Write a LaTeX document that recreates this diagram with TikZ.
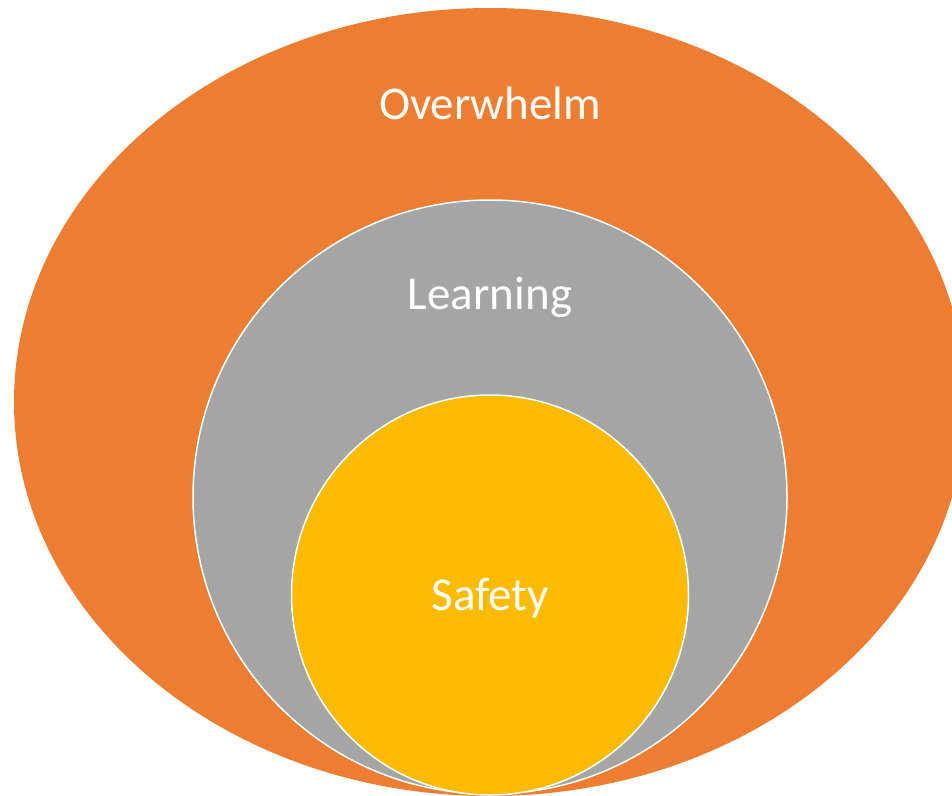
\documentclass[tikz,border=0pt]{standalone}
\usepackage{fontspec}
\setmainfont{Carlito}
\usetikzlibrary{shapes.geometric}
\definecolor{cOrange}{HTML}{ED7D31}
\definecolor{cGrey}{HTML}{A5A5A5}
\definecolor{cYellow}{HTML}{FCBB00}
\begin{document}
\begin{tikzpicture}[x=1pt,y=-1pt,
  ring/.style={ellipse,inner sep=0pt,outer sep=0pt,draw=white,line width=1.5pt},
  lbl/.style={text=white,font=\fontsize{47}{56}\selectfont,inner sep=0pt}]
\useasboundingbox (0,0) rectangle (952,795);
\clip (0,0) rectangle (952,795);
\node[ring,fill=cOrange,draw=none,minimum width=952pt,minimum height=788pt] (over) at (490,402) {};
\node[ring,fill=cGrey,minimum width=594pt,minimum height=594pt] (learn) at (490,497) {};
\node[ring,fill=cYellow,minimum width=397pt,minimum height=400pt] (safe) at (490,595) {};
\node[lbl] (tover) at (490,103) {Overwhelm};
\node[lbl] (tlearn) at (490,297) {Learning};
\node[lbl] (tsafe) at (490,598) {Safety};
\end{tikzpicture}
\end{document}
